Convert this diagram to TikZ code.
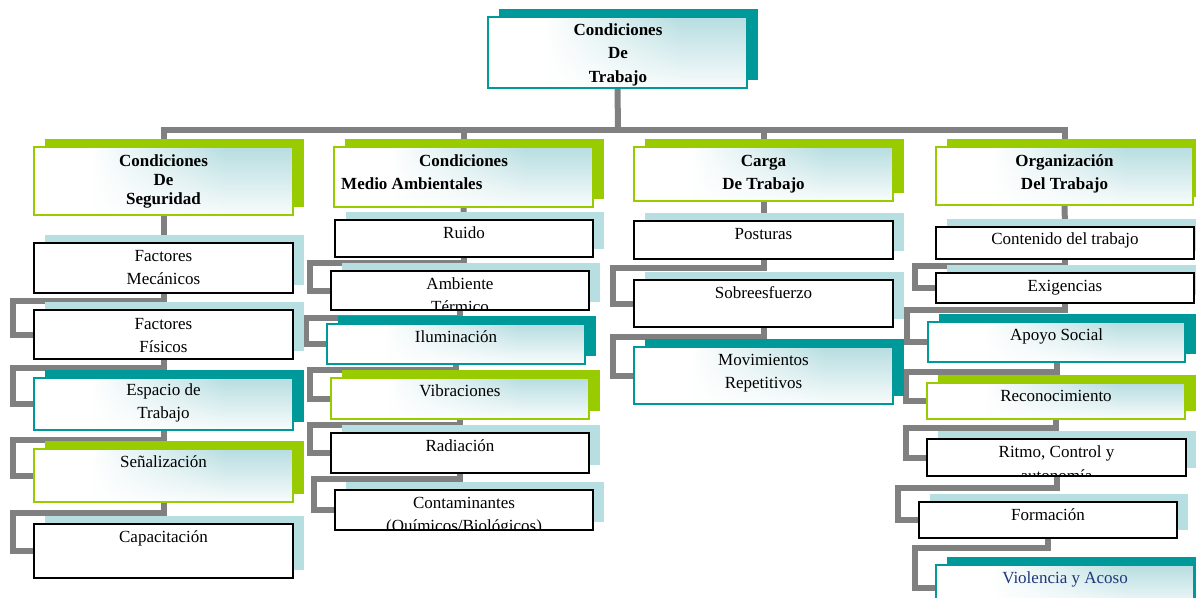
\documentclass[tikz,border=0pt]{standalone}
\usepackage{fontspec}
\setmainfont{Liberation Serif}
\usetikzlibrary{fadings}
\definecolor{teal1}{RGB}{0,153,153}
\definecolor{green1}{RGB}{153,204,0}
\definecolor{shadblue}{RGB}{183,222,225}
\definecolor{conngray}{RGB}{128,128,128}
\definecolor{gradteal}{RGB}{184,222,225}
\definecolor{navy1}{RGB}{31,56,120}
\pgfdeclarehorizontalshading{boxshade}{100bp}{color(0bp)=(white); color(36bp)=(white); color(62bp)=(gradteal); color(100bp)=(gradteal)}
\pgfdeclarelayer{bg}
\pgfdeclarelayer{shad}
\pgfsetlayers{bg,shad,main}
\tikzset{
 conn/.style={draw=conngray, line width=6},
 basebox/.style={line width=2, anchor=north west, inner sep=0, outer sep=0},
 plainbox/.style={basebox, draw=black, fill=white},
 tealbox/.style={basebox, draw=teal1, shade, shading=boxshade},
 greenbox/.style={basebox, draw=green1, shade, shading=boxshade},
 txt/.style={anchor=base, inner sep=0, font=\fontsize{17}{20}\selectfont},
 btxt/.style={anchor=base, inner sep=0, font=\fontsize{17}{20}\selectfont\bfseries},
 whitefade/.style={fill=white, path fading=north, fill opacity=0.9},
}
\newcommand\mkbox[7]{%
 \node[#6, minimum width=#4, minimum height=#5] (#1) at (#2,#3) {};
 \begin{pgfonlayer}{shad}
 \fill[#7] ([shift={(11,-8)}]#1.south west) rectangle ([shift={(11,-8)}]#1.north east);
 \end{pgfonlayer}}
\newcommand\fadebox[1]{%
 \fill[whitefade] ([shift={(1,-1)}]#1.south west) rectangle ([shift={(-1,1)}]#1.north east);}
\newcommand\elbow[3]{%
 \begin{pgfonlayer}{bg}
 \draw[conn] (#1.south) -- ++(0,#3) -| ([xshift=-21pt]#2.west) -- (#2.west);
 \end{pgfonlayer}}
\begin{document}
\begin{tikzpicture}[x=1pt,y=-1pt]
\useasboundingbox (0,0) rectangle (1196,597);
\clip (0,0) rectangle (1196,597);
% boxes
\mkbox{top}{488}{17}{259}{71}{tealbox}{teal1}
\mkbox{h1}{34}{147}{259}{68}{greenbox}{green1}
\mkbox{h2}{334}{147}{259}{60}{greenbox}{green1}
\mkbox{h3}{634}{147}{259}{54}{greenbox}{green1}
\mkbox{h4}{936}{147}{257}{58}{greenbox}{green1}
% column 1
\mkbox{c1a}{34}{243}{259}{50}{plainbox}{shadblue}
\mkbox{c1b}{34}{310}{259}{49}{plainbox}{shadblue}
\mkbox{c1c}{34}{378}{259}{52}{tealbox}{teal1}
\mkbox{c1d}{34}{449}{259}{53}{greenbox}{green1}
\mkbox{c1e}{34}{524}{259}{54}{plainbox}{shadblue}
% column 2
\mkbox{c2a}{335}{220}{258}{37}{plainbox}{shadblue}
\mkbox{c2b}{331}{271}{258}{39}{plainbox}{shadblue}
\mkbox{c2c}{327}{324}{258}{40}{tealbox}{teal1}
\mkbox{c2d}{331}{378}{258}{41}{greenbox}{green1}
\mkbox{c2e}{331}{433}{258}{40}{plainbox}{shadblue}
\mkbox{c2f}{335}{490}{258}{40}{plainbox}{shadblue}
% column 3
\mkbox{c3a}{634}{221}{259}{38}{plainbox}{shadblue}
\mkbox{c3b}{634}{280}{259}{47}{plainbox}{shadblue}
\mkbox{c3c}{634}{347}{259}{57}{tealbox}{teal1}
% column 4
\mkbox{c4a}{936}{227}{258}{32}{plainbox}{shadblue}
\mkbox{c4b}{936}{273}{258}{30}{plainbox}{shadblue}
\mkbox{c4c}{928}{322}{257}{40}{tealbox}{teal1}
\mkbox{c4d}{927}{383}{258}{36}{greenbox}{green1}
\mkbox{c4e}{927}{439}{259}{37}{plainbox}{shadblue}
\mkbox{c4f}{919}{502}{258}{36}{plainbox}{shadblue}
\mkbox{c4g}{936}{565}{258}{45}{tealbox}{teal1}
% white fade on the shaded boxes
\fadebox{top}\fadebox{h1}\fadebox{h2}\fadebox{h3}\fadebox{h4}
\fadebox{c1c}\fadebox{c1d}\fadebox{c2c}\fadebox{c2d}\fadebox{c3c}
\fadebox{c4c}\fadebox{c4d}\fadebox{c4g}
% connectors
\coordinate (bus) at (618,130);
\begin{pgfonlayer}{bg}
\draw[conn] (top.south) -- (bus);
\draw[conn] (h1.north) |- (bus) -| (h4.north);
\draw[conn] (h2.north) -- (h2.north |- bus);
\draw[conn] (h3.north) -- (h3.north |- bus);
\draw[conn] (h1.south) -- (c1a.north);
\draw[conn] (h2.south) -- (c2a.north);
\draw[conn] (h3.south) -- (c3a.north);
\draw[conn] (h4.south) -- (c4a.north);
\end{pgfonlayer}
\elbow{c1a}{c1b}{8}
\elbow{c1b}{c1c}{9}
\elbow{c1c}{c1d}{10}
\elbow{c1d}{c1e}{11}
\elbow{c2a}{c2b}{6}
\elbow{c2b}{c2c}{8}
\elbow{c2c}{c2d}{6}
\elbow{c2d}{c2e}{6}
\elbow{c2e}{c2f}{6}
\elbow{c3a}{c3b}{9}
\elbow{c3b}{c3c}{10}
\elbow{c4a}{c4b}{7}
\elbow{c4b}{c4c}{7}
\elbow{c4c}{c4d}{10}
\elbow{c4d}{c4e}{9}
\elbow{c4e}{c4f}{12}
\elbow{c4f}{c4g}{10}
% texts
\node[btxt] (ttop1) at (618,35) {Condiciones};
\node[btxt] (ttop2) at (618,58) {De};
\node[btxt] (ttop3) at (618,82) {Trabajo};
\node[btxt] (th1a) at (163.5,166) {Condiciones};
\node[btxt] (th1b) at (163.5,185) {De};
\node[btxt] (th1c) at (163.5,204) {Seguridad};
\node[btxt] (th2a) at (463.5,166) {Condiciones};
\node[btxt, anchor=base west] (th2b) at (341,189) {Medio Ambientales};
\node[btxt] (th3a) at (763.5,166) {Carga};
\node[btxt] (th3b) at (763.5,189) {De Trabajo};
\node[btxt] (th4a) at (1064.5,166) {Organización};
\node[btxt] (th4b) at (1064.5,189) {Del Trabajo};
% column 1 texts
\node[txt] (t1a1) at (163.5,261) {Factores};
\node[txt] (t1a2) at (163.5,284) {Mecánicos};
\node[txt] (t1b1) at (163.5,329) {Factores};
\node[txt] (t1b2) at (163.5,352) {Físicos};
\node[txt] (t1c1) at (163.5,395) {Espacio de};
\node[txt] (t1c2) at (163.5,418) {Trabajo};
\node[txt] (t1d) at (163.5,467) {Señalización};
\node[txt] (t1e) at (163.5,542) {Capacitación};
% column 2 texts
\node[txt] (t2a) at (464,238) {Ruido};
\begin{scope}
\clip ([shift={(1,-1)}]c2b.south west) rectangle ([shift={(-1,1)}]c2b.north east);
\node[txt] (t2b1) at (460,289) {Ambiente};
\node[txt] (t2b2) at (460,312) {Térmico};
\end{scope}
\node[txt] (t2c) at (456,342) {Iluminación};
\node[txt] (t2d) at (460,396) {Vibraciones};
\node[txt] (t2e) at (460,451) {Radiación};
\begin{scope}
\clip ([shift={(1,-1)}]c2f.south west) rectangle ([shift={(-1,1)}]c2f.north east);
\node[txt] (t2f1) at (464,508) {Contaminantes};
\node[txt] (t2f2) at (464,531) {(Químicos/Biológicos)};
\end{scope}
% column 3 texts
\node[txt] (t3a) at (763.5,239) {Posturas};
\node[txt] (t3b) at (763.5,298) {Sobreesfuerzo};
\node[txt] (t3c1) at (763.5,365) {Movimientos};
\node[txt] (t3c2) at (763.5,388) {Repetitivos};
% column 4 texts
\node[txt] (t4a) at (1065,244) {Contenido del trabajo};
\node[txt] (t4b) at (1065,291) {Exigencias};
\node[txt] (t4c) at (1056.5,340) {Apoyo Social};
\node[txt] (t4d) at (1056,401) {Reconocimiento};
\begin{scope}
\clip ([shift={(1,-1)}]c4e.south west) rectangle ([shift={(-1,1)}]c4e.north east);
\node[txt] (t4e1) at (1056.5,457) {Ritmo, Control y};
\node[txt] (t4e2) at (1056.5,481) {autonomía};
\end{scope}
\node[txt] (t4f) at (1048,520) {Formación};
\node[txt, text=navy1] (t4g) at (1065,583) {Violencia y Acoso};
\end{tikzpicture}
\end{document}
